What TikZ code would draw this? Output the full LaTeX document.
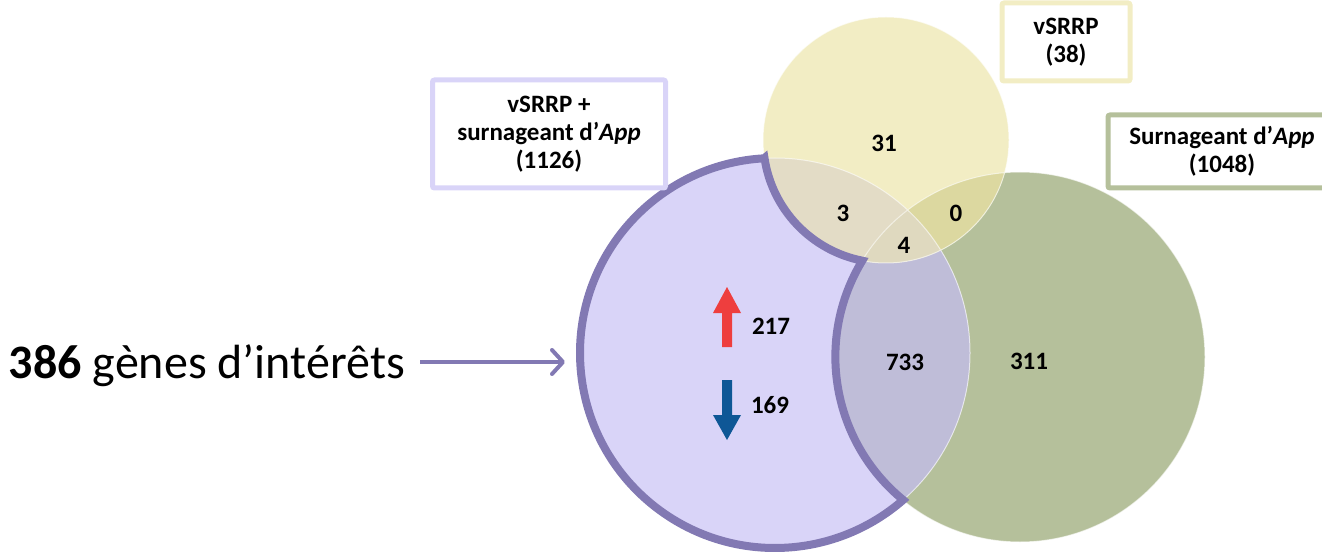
\documentclass[tikz,border=0pt]{standalone}
\usepackage{fontspec}
\setmainfont{Carlito}
\usetikzlibrary{arrows.meta, math}

\definecolor{lavfill}{HTML}{D9D4F8}
\definecolor{lavline}{HTML}{8279B3}
\definecolor{yelfill}{HTML}{F2EDC4}
\definecolor{grnfill}{HTML}{B5C09B}
\definecolor{pgfill}{HTML}{BFBDD8}
\definecolor{pyfill}{HTML}{E3DCC6}
\definecolor{ygfill}{HTML}{DCD8A0}
\definecolor{pygfill}{HTML}{DFD9BF}
\definecolor{upred}{HTML}{EE3E3E}
\definecolor{downblue}{HTML}{0E5796}

\tikzset{
  num/.style={font=\fontsize{25}{28}\selectfont\bfseries},
  setbox/.style={draw, line width=5, rounded corners=2, fill=white, align=center,
    font=\fontsize{25}{28}\selectfont\bfseries, inner sep=0},
}

\begin{document}
\begin{tikzpicture}[x=1pt,y=1pt]
\tikzmath{
\Rp=195; \Ry=123; \Rg=185;
}
\useasboundingbox (0,0) rectangle (1322,555);

\coordinate (P) at (775,202);
\coordinate (Y) at (886,415);
\coordinate (G) at (1020,198);

% the three sets
\fill[grnfill] (G) circle (\Rg);
\fill[lavfill] (P) circle (\Rp);
\fill[yelfill] (Y) circle (\Ry);
\begin{scope}
\clip (P) circle (\Rp);
\fill[pgfill] (G) circle (\Rg);
\fill[pyfill] (Y) circle (\Ry);
\end{scope}
\begin{scope}
\clip (Y) circle (\Ry);
\fill[ygfill] (G) circle (\Rg);
\clip (P) circle (\Rp);
\fill[pygfill] (G) circle (\Rg);
\end{scope}
\draw[white, line width=1, opacity=0.6] (G) circle (\Rg) (P) circle (\Rp) (Y) circle (\Ry);

% genes only in vSRRP + App
\draw[lavline, line width=8, line join=miter, miter limit=3]
  ([shift={(P)}]93.2:\Rp) arc[start angle=93.2, end angle=311.1, radius=\Rp]
  arc[start angle=230.7, end angle=148.7, radius=\Rg]
  arc[start angle=258.8, end angle=188.4, radius=\Ry] -- cycle;

\fill[upred] (722,208) -- (722,242) -- (713,242) -- (727,268) -- (741,242) -- (732,242) -- (732,208) -- cycle;
\fill[downblue] (722,175) -- (722,140) -- (713,140) -- (727,115) -- (741,140) -- (732,140) -- (732,175) -- cycle;

\node[num] (n31) at (884,412) {31};
\node[num] (n3) at (843,342) {3};
\node[num] (n0) at (956,342) {0};
\node[num] (n4) at (904,310) {4};
\node[num] (n733) at (905,193) {733};
\node[num] (n311) at (1029,194) {311};
\node[num] (nup) at (771,229) {217};
\node[num] (ndown) at (770,150) {169};

\node[setbox, draw=lavfill, minimum width=233, minimum height=108] (lblP) at (549,421)
  {vSRRP +\\surnageant d’\textit{App}\\(1126)};
\node[setbox, draw=yelfill, minimum width=128, minimum height=78] (lblY) at (1066,513)
  {vSRRP\\(38)};
\node[setbox, draw=grnfill, minimum width=228, minimum height=73] (lblG) at (1222,403.5)
  {Surnageant d’\textit{App}\\(1048)};

\node[anchor=base east, inner sep=0, font=\fontsize{48}{54}\selectfont] (genes) at (405,177)
  {\textbf{386} gènes d’intérêts};
\coordinate (arrowend) at (565,193);
\draw[lavline, line width=4, -{Straight Barb[length=11, width=24, round]}]
  ([xshift=15,yshift=16]genes.base east) -- (arrowend);

\end{tikzpicture}
\end{document}
